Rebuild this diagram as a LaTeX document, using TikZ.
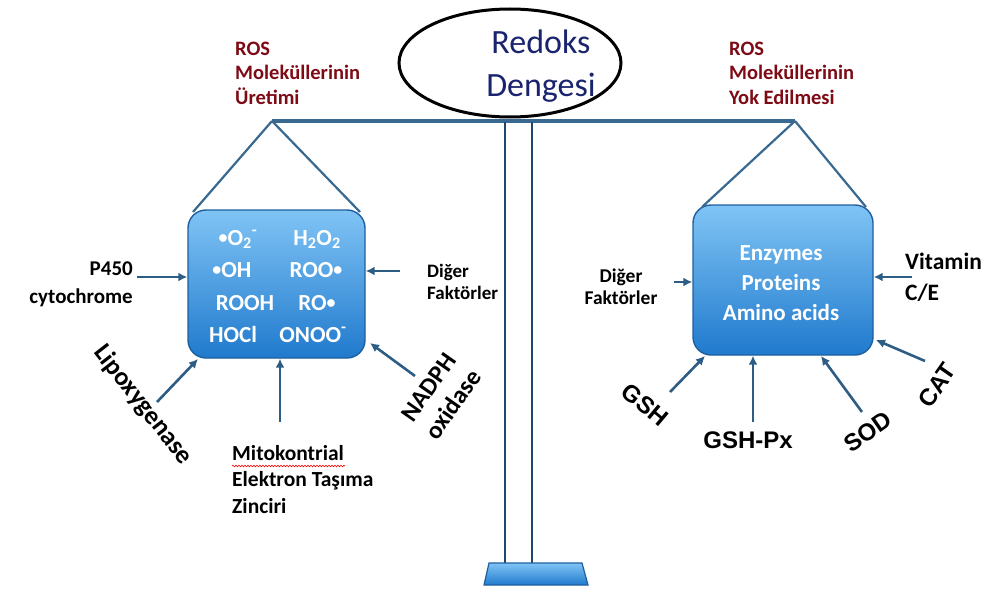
\documentclass[tikz,border=0pt]{standalone}
\usepackage{fontspec}
\setmainfont{Carlito}
\newfontfamily\arialfont{Liberation Sans}
\usetikzlibrary{shapes.geometric,arrows.meta,decorations.pathmorphing}

\definecolor{arrowblue}{RGB}{45,92,132}
\definecolor{beamblue}{RGB}{55,105,145}
\definecolor{poleblue}{RGB}{30,72,110}
\definecolor{boxtop}{RGB}{128,196,245}
\definecolor{boxbot}{RGB}{32,122,205}
\definecolor{boxedge}{RGB}{30,95,160}
\definecolor{rosred}{RGB}{125,10,20}
\definecolor{titlenavy}{RGB}{25,35,110}

\newcommand\fsz[2]{\fontsize{#1}{#2}\selectfont}
\newcommand\rad{\raisebox{1.5pt}{\fsz{18}{20}•}}

\begin{document}
\begin{tikzpicture}[x=1pt,y=-1pt,
  boxstyle/.style={draw=boxedge, line width=1.4pt, rounded corners=18pt,
    top color=boxtop, bottom color=boxbot, inner sep=0pt},
  boxtxt/.style={text=white, font=\fsz{23}{28}\bfseries, anchor=base, inner sep=0pt},
  lbl/.style={text=black, inner sep=0pt},
  arlbl/.style={text=black, inner sep=0pt, font=\arialfont\fsz{24}{28}\bfseries},
  roslbl/.style={text=rosred, inner sep=0pt, align=left, anchor=base west,
    font=\fsz{20.5}{24.5}\bfseries},
  hangline/.style={draw=beamblue, line width=2.2pt},
  inarrow/.style={draw=arrowblue, line width=2.6pt,
    -{Latex[length=9pt,width=9pt]}},
]
\useasboundingbox (0,0) rectangle (989,589);

% --- balance: beam, pole and foot ---
\coordinate (lapex) at (272,121);
\coordinate (rapex) at (795,121);
\draw[draw=beamblue, line width=3.4pt] (lapex) -- (rapex);
\draw[draw=poleblue, line width=2pt] (505,122) -- (505,564);
\draw[draw=poleblue, line width=2pt] (532,122) -- (532,564);
\draw[draw=boxedge, line width=1.2pt, top color=boxtop, bottom color=boxbot]
  (489,563) -- (582,563) -- (588,585) -- (484,585) -- cycle;

% --- title ellipse ---
\draw[line width=3pt, fill=white] (510,63) ellipse [x radius=111pt, y radius=54pt];
\node[text=titlenavy, font=\fsz{34}{43}, align=center, inner sep=0pt] (title) at (541,66) {Redoks\\Dengesi};

% --- pans ---
\node[boxstyle, minimum width=177pt, minimum height=148pt] (lbox) at (276.5,284) {};
\node[boxstyle, minimum width=180pt, minimum height=150pt] (rbox) at (783,280) {};

% hanging strings
\coordinate (lnw) at (193,212);
\coordinate (lne) at (360,212);
\coordinate (rnw) at (702,207);
\coordinate (rne) at (866,207);
\draw[hangline] (lapex) -- (lnw);
\draw[hangline] (lapex) -- (lne);
\draw[hangline] (rapex) -- (rnw);
\draw[hangline] (rapex) -- (rne);

% --- species in the left pan ---
\node[boxtxt] (o2) at (238,245) {\rad O\textsubscript{2}\textsuperscript{-}};
\node[boxtxt] (h2o2) at (317,245) {H\textsubscript{2}O\textsubscript{2}};
\node[boxtxt] (oh) at (232,277) {\rad OH};
\node[boxtxt] (roo) at (316,277) {ROO\rad};
\node[boxtxt] (rooh) at (245,310) {ROOH};
\node[boxtxt] (ro) at (317,310) {RO\rad};
\node[boxtxt] (hocl) at (233,342) {HOCl};
\node[boxtxt] (onoo) at (313,342) {ONOO\textsuperscript{-}};

% --- defences in the right pan ---
\node[boxtxt] (enz) at (781,260) {Enzymes};
\node[boxtxt] (prot) at (781,290) {Proteins};
\node[boxtxt] (amino) at (781,320) {Amino acids};

% --- headings (anchored on the baseline of the last line) ---
\node[roslbl] (rosl) at (235,104) {ROS\\Moleküllerinin\\Üretimi};
\node[roslbl] (rosr) at (729,104) {ROS\\Moleküllerinin\\Yok Edilmesi};

% --- sources (left) ---
\node[lbl, font=\fsz{21}{28}\bfseries, align=right, anchor=base east] (p450) at (133,303) {P450\\cytochrome};
\node[lbl, font=\fsz{19}{22}\bfseries, align=left, anchor=base west] (digl) at (427,299) {Diğer\\Faktörler};
\node[lbl, font=\fsz{26}{30}\bfseries, rotate=-52] (lipox) at (143,405) {Lipoxygenase};
\node[lbl, font=\fsz{21.5}{26.5}\bfseries, align=left, anchor=base west] (mito) at (232,513) {Mitokontrial\\Elektron Taşıma\\Zinciri};
\node[lbl, font=\fsz{25}{30}\bfseries, rotate=55, align=center] (nadph) at (441,396) {NADPH\\oxidase};
\draw[red, line width=0.6pt, decorate, decoration={snake, amplitude=0.8pt, segment length=3pt}]
  (232,466) -- (345,466);

% --- antioxidants (right) ---
\node[lbl, font=\fsz{19.5}{22}\bfseries, align=center, anchor=base] (digr) at (621,304) {Diğer\\Faktörler};
\node[lbl, font=\fsz{23.5}{31}\bfseries, align=left, anchor=base west] (vit) at (905,300) {Vitamin\\C/E};
\node[arlbl, rotate=-40] (gsh) at (645,405) {GSH};
\node[arlbl] (gshpx) at (748,440) {GSH-Px};
\node[arlbl, rotate=35] (sod) at (868,432) {SOD};
\node[arlbl, rotate=55] (cat) at (937,385) {CAT};

% --- arrow tails ---
\coordinate (tp450) at (137,277);
\coordinate (tdigl) at (400,271);
\coordinate (tlip) at (157,402);
\coordinate (tmito) at (280,422);
\coordinate (tnad) at (415,376);
\coordinate (tdigr) at (674,282);
\coordinate (tvit) at (912,277);
\coordinate (tcat) at (925,361);
\coordinate (tgsh) at (670,392);
\coordinate (tgpx) at (753,422);
\coordinate (tsod) at (862,412);

% --- arrow heads on the pans ---
\coordinate (hlip) at (198,359);
\coordinate (hnad) at (370,343);
\coordinate (hcat) at (876,340);
\coordinate (hgsh) at (705,356);
\coordinate (hsod) at (821,356);

% --- arrows into the pans ---
\draw[inarrow] (tp450) -- (tp450 -| lbox.west);
\draw[inarrow] (tdigl) -- (tdigl -| lbox.east);
\draw[inarrow] (tlip) -- (hlip);
\draw[inarrow] (tmito) -- (tmito |- lbox.south);
\draw[inarrow] (tnad) -- (hnad);
\draw[inarrow] (tdigr) -- (tdigr -| rbox.west);
\draw[inarrow] (tvit) -- (tvit -| rbox.east);
\draw[inarrow] (tcat) -- (hcat);
\draw[inarrow] (tgsh) -- (hgsh);
\draw[inarrow] (tgpx) -- (tgpx |- rbox.south);
\draw[inarrow] (tsod) -- (hsod);
\end{tikzpicture}
\end{document}
